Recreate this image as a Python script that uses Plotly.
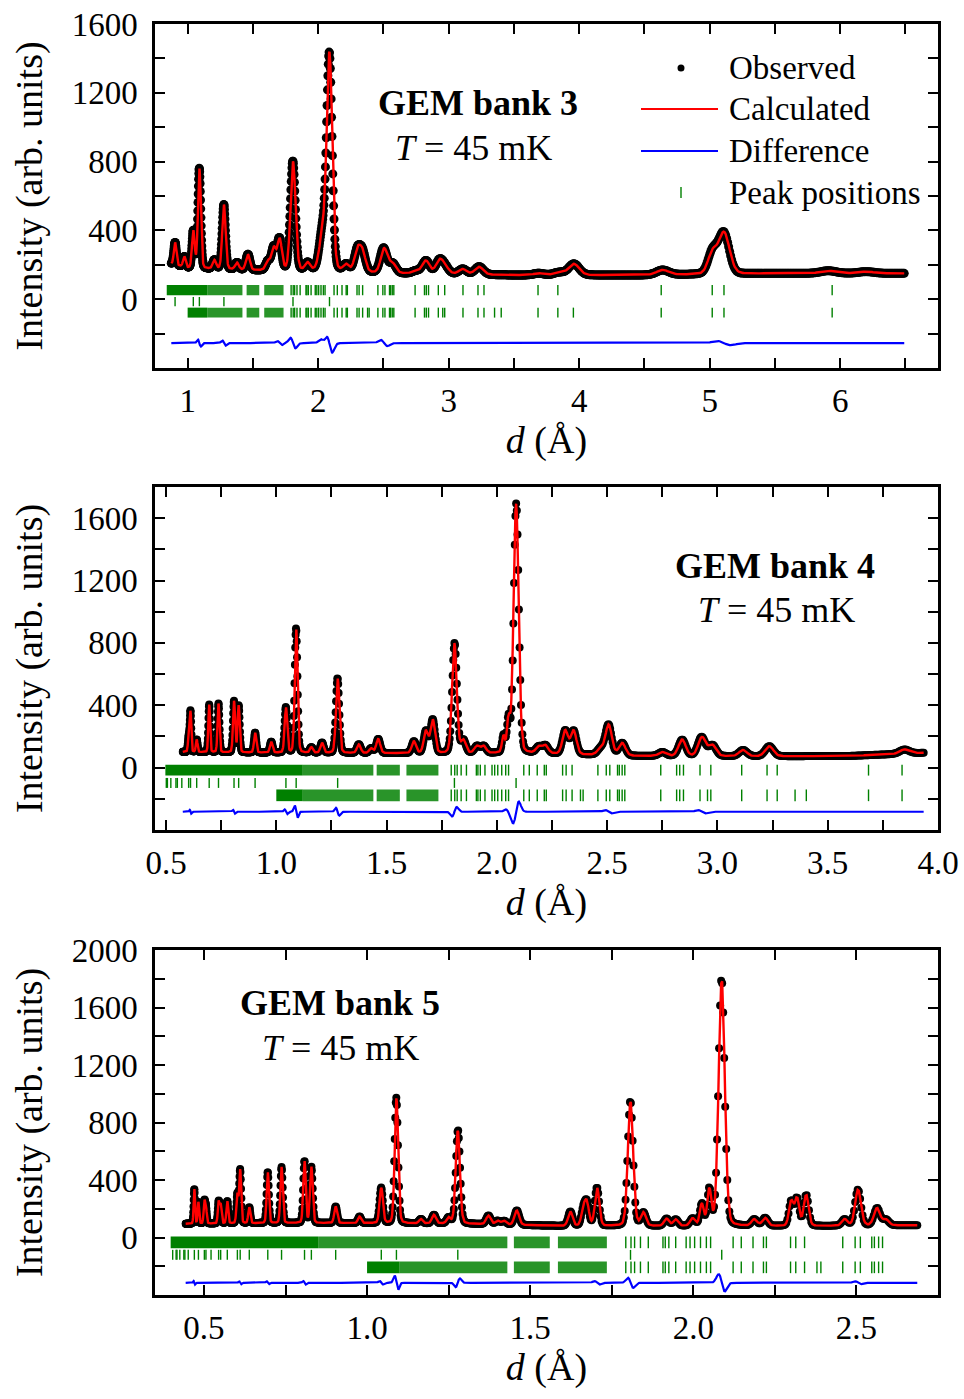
import numpy as np
import plotly.graph_objects as go

# ------------------------------------------------------------------
# Data (d in Angstrom, intensity in arb. units)
# ------------------------------------------------------------------
# --- GEM bank 3 ---
b3_d_range = [0.875, 6.50]
b3_bg_d = [0.875, 1.0, 1.5, 2.0, 2.6, 3.5, 4.5, 5.5, 6.5]
b3_bg_i = [205, 180, 168, 160, 150, 140, 140, 150, 150]
b3_pk_d = [0.9038, 0.975, 1.0436, 1.0900, 1.205, 1.2781, 1.378, 1.462, 1.615, 1.659, 1.705,
           1.8075, 1.92, 2.035, 2.0871, 2.215, 2.30, 2.34, 2.506, 2.57, 2.75, 2.826, 2.928,
           2.97, 3.108, 3.234, 3.69, 3.846, 3.96, 4.64, 5.02, 5.11, 5.91, 6.2]
b3_pk_h = [130, 60, 215, 580, 50, 375, 40, 90, 50, 130, 180,
           635, 45, 200, 1250, 40, 120, 110, 140, 55, 15, 75, 70,
           40, 30, 45, 10, 15, 65, 28, 115, 240, 15, 10]
b3_pk_w = [0.022, 0.024, 0.024, 0.026, 0.03, 0.03, 0.033, 0.035, 0.04, 0.04, 0.04,
           0.045, 0.045, 0.06, 0.05, 0.05, 0.055, 0.055, 0.06, 0.06, 0.065, 0.065, 0.065,
           0.07, 0.07, 0.075, 0.09, 0.09, 0.095, 0.11, 0.08, 0.1, 0.14, 0.14]
b3_df_d = [1.09, 1.2781, 1.705, 1.8075, 2.04, 2.0871, 2.506, 5.11]
b3_df_a = [20, 15, 12, 30, 20, 55, 18, 12]
b3_df_w = [0.026, 0.03, 0.04, 0.045, 0.05, 0.05, 0.06, 0.12]
b3_step = 0.0015

# --- GEM bank 4 ---
b4_d_range = [0.576, 3.936]
b4_bg_d = [0.576, 1.0, 1.6, 2.2, 2.6, 3.2, 3.6, 3.936]
b4_bg_i = [100, 95, 92, 90, 75, 72, 75, 95]
b4_pk_d = [0.6025, 0.6111, 0.6390, 0.6957, 0.7379, 0.8083, 0.8293, 0.9038, 0.977, 1.0436,
           1.0900, 1.159, 1.207, 1.2781, 1.374, 1.43, 1.462, 1.624, 1.678, 1.709, 1.8075,
           1.848, 1.91, 1.94, 2.03, 2.053, 2.0871, 2.19, 2.22, 2.31, 2.348, 2.47, 2.507,
           2.568, 2.75, 2.84, 2.93, 2.977, 3.116, 3.235, 3.848]
b4_pk_h = [90, 260, 80, 305, 312, 328, 300, 128, 70, 290,
           795, 35, 65, 478, 55, 30, 90, 75, 140, 215, 705,
           80, 45, 45, 100, 210, 1600, 40, 50, 150, 150, 40, 195,
           80, 25, 105, 120, 70, 40, 65, 27]
b4_pk_w = [0.008, 0.008, 0.009, 0.009, 0.01, 0.011, 0.011, 0.012, 0.014, 0.014,
           0.015, 0.016, 0.017, 0.018, 0.02, 0.02, 0.021, 0.023, 0.023, 0.024, 0.025,
           0.026, 0.027, 0.027, 0.016, 0.016, 0.027, 0.03, 0.03, 0.03, 0.03, 0.034, 0.034,
           0.035, 0.038, 0.038, 0.04, 0.04, 0.042, 0.044, 0.05]
b4_df_d = [0.6111, 0.8083, 1.0436, 1.09, 1.2781, 1.8075, 2.053, 2.0871, 2.507, 2.93]
b4_df_a = [12, 12, 15, 40, 25, -30, 15, -65, 10, 10]
b4_df_w = [0.008, 0.011, 0.014, 0.015, 0.018, 0.025, 0.028, 0.029, 0.034, 0.04]
b4_step = 0.0015

# --- GEM bank 5 ---
b5_d_range = [0.444, 2.688]
b5_bg_d = [0.444, 0.7, 1.0, 1.3, 1.6, 2.0, 2.4, 2.688]
b5_bg_i = [95, 100, 100, 95, 80, 78, 80, 85]
b5_pk_d = [0.4706, 0.4831, 0.5013, 0.5062, 0.5450, 0.5513, 0.5716, 0.6025, 0.6111, 0.6390,
           0.6957, 0.7379, 0.8083, 0.8293, 0.9038, 0.977, 1.0436, 1.0900, 1.165, 1.205,
           1.25, 1.2781, 1.372, 1.40, 1.42, 1.459, 1.623, 1.663, 1.674, 1.705, 1.8075,
           1.847, 1.918, 1.946, 1.998, 2.026, 2.049, 2.0871, 2.187, 2.22, 2.30, 2.318,
           2.346, 2.464, 2.505, 2.563, 2.59]
b5_pk_h = [240, 150, 150, 110, 150, 130, 155, 200, 370, 110,
           355, 390, 430, 390, 115, 45, 245, 870, 30, 60,
           40, 650, 60, 25, 25, 100, 100, 110, 150, 265, 870,
           90, 50, 45, 50, 150, 250, 1720, 45, 55, 170, 190,
           215, 45, 250, 120, 40]
b5_pk_w = [0.005, 0.005, 0.0055, 0.0055, 0.006, 0.006, 0.0065, 0.007, 0.007, 0.0075,
           0.008, 0.0085, 0.009, 0.0095, 0.0105, 0.011, 0.012, 0.0125, 0.013, 0.014,
           0.014, 0.015, 0.016, 0.016, 0.017, 0.017, 0.016, 0.015, 0.015, 0.016, 0.019,
           0.018, 0.018, 0.018, 0.018, 0.014, 0.014, 0.022, 0.02, 0.02, 0.016, 0.016,
           0.017, 0.02, 0.021, 0.022, 0.022]
b5_df_d = [0.4706, 0.6111, 0.6957, 0.8083, 1.0436, 1.09, 1.2781, 1.705, 1.8075, 2.0871, 2.505]
b5_df_a = [12, 10, 10, 12, 12, 50, -30, 12, 35, 60, 10]
b5_df_w = [0.005, 0.007, 0.008, 0.009, 0.012, 0.0125, 0.015, 0.018, 0.019, 0.022, 0.021]
b5_step = 0.0015

# --- Reflection (peak) positions ---
cu_d = [2.0871, 1.8075, 1.2781, 1.0900, 1.0436, 0.9038, 0.8293, 0.8083, 0.7379, 0.6957,
        0.6390, 0.6111, 0.6025, 0.5716, 0.5513, 0.5450, 0.5218, 0.5062, 0.5013, 0.4831,
        0.4706, 0.4519, 0.4416, 0.4384, 0.4260, 0.4174, 0.4147, 0.4042]
main_d = [1.793, 1.809, 1.820, 1.838, 1.862, 1.907, 1.914, 1.925, 1.946, 1.978, 1.990,
          2.004, 2.022, 2.040, 2.053, 2.122, 2.147, 2.183, 2.215, 2.224, 2.298, 2.314,
          2.341, 2.458, 2.496, 2.512, 2.547, 2.555, 2.568, 2.580, 2.743, 2.815, 2.829,
          2.846, 2.921, 2.970, 3.110, 3.225, 3.271, 3.685, 3.837, 4.629, 5.020, 5.110, 5.939]
mag_extra_d = [2.379, 2.391, 2.955, 3.352, 3.403, 3.956]
# densely packed reflections (unresolved at this scale): [start, end]
b3_main_dense = [[0.84, 1.15]]
b3_main_light = [[1.15, 1.42], [1.452, 1.549], [1.587, 1.735]]
b3_mag_dense = [[1.0, 1.15]]
b3_mag_light = [[1.15, 1.42], [1.452, 1.549], [1.587, 1.735]]
b4_main_dense = [[0.497, 1.12]]
b4_main_light = [[1.12, 1.44], [1.455, 1.56], [1.59, 1.735]]
b4_mag_dense = [[1.0, 1.12]]
b4_mag_light = [[1.12, 1.44], [1.455, 1.56], [1.59, 1.735]]
b5_main_dense = [[0.398, 0.85]]
b5_main_light = [[0.85, 1.43], [1.45, 1.56], [1.585, 1.735]]
b5_mag_dense = [[1.0, 1.1]]
b5_mag_light = [[1.1, 1.43], [1.45, 1.56], [1.585, 1.735]]
tick_dmin = {"b3": 0.84, "b4": 0.497, "b5": 0.398}

# ------------------------------------------------------------------
# Style / layout constants
# ------------------------------------------------------------------
FONT = "Liberation Serif"
GREEN = "rgb(0,128,0)"
GREEN_LIGHT = "rgba(0,128,0,0.84)"
W, H = 964, 1399
X0, X1 = 155 / W, 938 / W


def ydom(top, bot):
    return [1 - bot / H, 1 - top / H]


def profile(d, bg_d, bg_i, pk_d, pk_h, pk_w, eta=0.15):
    y = np.interp(d, bg_d, bg_i).astype(float)
    for c, h, w in zip(pk_d, pk_h, pk_w):
        t = 4.0 * (d - c) ** 2 / w ** 2
        y += h * (eta / (1 + t) + (1 - eta) * np.exp(-np.log(2) * t))
    return y


def misfit(d, df_d, df_a, df_w):
    y = np.zeros_like(d)
    for c, a, w in zip(df_d, df_a, df_w):
        u = (d - c) / (w / 2.355)
        y += a * (-u) * np.exp(0.5 - u * u / 2)
    return y


def grid(lo, hi, step):
    n = int(np.log(hi / lo) / np.log(1 + step)) + 1
    return lo * (1 + step) ** np.arange(n)


panels = [
    dict(key="b3", xr=[0.75, 6.75], yr=[-400, 1600], dom=ydom(24, 368),
         drange=b3_d_range, bg=(b3_bg_d, b3_bg_i), pk=(b3_pk_d, b3_pk_h, b3_pk_w),
         df=(b3_df_d, b3_df_a, b3_df_w), step=b3_step, diff0=-255,
         rows=[(23, 82), (-41, 13), (-107, -49)],
         main_dense=b3_main_dense, main_light=b3_main_light,
         mag_dense=b3_mag_dense, mag_light=b3_mag_light,
         xt=np.arange(1.0, 6.51, 0.5), xlab=lambda v: f"{v:.0f}" if abs(v - round(v)) < 1e-6 else "",
         yt=np.arange(-200, 1601, 200), msize=9),
    dict(key="b4", xr=[0.45, 4.0], yr=[-400, 1800], dom=ydom(487, 830),
         drange=b4_d_range, bg=(b4_bg_d, b4_bg_i), pk=(b4_pk_d, b4_pk_h, b4_pk_w),
         df=(b4_df_d, b4_df_a, b4_df_w), step=b4_step, diff0=-283,
         rows=[(-51, 19), (-130, -66), (-215, -140)],
         main_dense=b4_main_dense, main_light=b4_main_light,
         mag_dense=b4_mag_dense, mag_light=b4_mag_light,
         xt=np.arange(0.5, 4.01, 0.25), xlab=lambda v: f"{v:.1f}" if abs(v * 2 - round(v * 2)) < 1e-6 else "",
         yt=np.arange(-200, 1801, 200), msize=8),
    dict(key="b5", xr=[0.35, 2.75], yr=[-400, 2000], dom=ydom(950, 1295),
         drange=b5_d_range, bg=(b5_bg_d, b5_bg_i), pk=(b5_pk_d, b5_pk_h, b5_pk_w),
         df=(b5_df_d, b5_df_a, b5_df_w), step=b5_step, diff0=-315,
         rows=[(-74, 7), (-155, -86), (-248, -167)],
         main_dense=b5_main_dense, main_light=b5_main_light,
         mag_dense=b5_mag_dense, mag_light=b5_mag_light,
         xt=np.arange(0.5, 2.751, 0.25), xlab=lambda v: f"{v:.1f}" if abs(v * 2 - round(v * 2)) < 1e-6 else "",
         yt=np.arange(-200, 2001, 200), msize=8),
]

fig = go.Figure()


def ticks_xy(ds, y0, y1):
    xs, ys = [], []
    for v in ds:
        xs += [v, v, None]
        ys += [y0, y1, None]
    return xs, ys


def band_xy(bands, y0, y1):
    xs, ys = [], []
    for a, b in bands:
        xs += [a, b, b, a, a, None]
        ys += [y0, y0, y1, y1, y0, None]
    return xs, ys


for i, p in enumerate(panels):
    xa = "x" if i == 0 else f"x{i + 1}"
    ya = "y" if i == 0 else f"y{i + 1}"
    d = grid(p["drange"][0], p["drange"][1], p["step"])
    calc = profile(d, *p["bg"], *p["pk"])
    dif = misfit(d, *p["df"])
    obs = calc + dif
    dmin, dmax = tick_dmin[p["key"]], p["drange"][1]

    fig.add_trace(go.Scatter(x=d, y=obs, mode="markers", name="Observed",
                             marker=dict(color="black", size=p["msize"]),
                             xaxis=xa, yaxis=ya, showlegend=False, cliponaxis=True))
    fig.add_trace(go.Scatter(x=d, y=calc, mode="lines", name="Calculated",
                             line=dict(color="red", width=2.4),
                             xaxis=xa, yaxis=ya, showlegend=False))
    fig.add_trace(go.Scatter(x=d, y=dif + p["diff0"], mode="lines", name="Difference",
                             line=dict(color="blue", width=2.2),
                             xaxis=xa, yaxis=ya, showlegend=False))

    (r1a, r1b), (r2a, r2b), (r3a, r3b) = p["rows"]
    main_sel = [v for v in main_d if dmin <= v <= dmax]
    cu_sel = [v for v in cu_d if dmin <= v <= dmax]
    mag_sel = [v for v in sorted(main_d + mag_extra_d) if max(1.0, dmin) <= v <= dmax]
    for ds, (a, b) in [(main_sel, (r1a, r1b)), (cu_sel, (r2a, r2b)), (mag_sel, (r3a, r3b))]:
        tx, ty = ticks_xy(ds, a, b)
        fig.add_trace(go.Scatter(x=tx, y=ty, mode="lines", name="Peak positions",
                                 line=dict(color=GREEN, width=1.4),
                                 xaxis=xa, yaxis=ya, showlegend=False))
    for bands, col, (a, b) in [(p["main_dense"], GREEN, (r1a, r1b)),
                               (p["main_light"], GREEN_LIGHT, (r1a, r1b)),
                               (p["mag_dense"], GREEN, (r3a, r3b)),
                               (p["mag_light"], GREEN_LIGHT, (r3a, r3b))]:
        bx, by = band_xy(bands, a, b)
        fig.add_trace(go.Scatter(x=bx, y=by, mode="lines", fill="toself",
                                 fillcolor=col, line=dict(width=0, color=col),
                                 name="Peak positions", xaxis=xa, yaxis=ya,
                                 showlegend=False, hoverinfo="skip"))

    axis_common = dict(showline=True, linecolor="black", linewidth=2.5, mirror="allticks",
                       ticks="inside", ticklen=10, tickwidth=2.2, tickcolor="black",
                       showgrid=False, zeroline=False, automargin=False,
                       tickfont=dict(family=FONT, size=33, color="black"))
    xv = list(p["xt"])
    fig.layout[("xaxis" if i == 0 else f"xaxis{i + 1}")] = dict(
        domain=[X0, X1], range=p["xr"], anchor=ya, tickmode="array",
        tickvals=xv, ticktext=[p["xlab"](v) for v in xv], ticklabelstandoff=2,
        title=dict(text="<i>d</i> (Å)", font=dict(family=FONT, size=38, color="black"), standoff=4),
        **axis_common)
    yv = [int(v) for v in p["yt"]]
    fig.layout[("yaxis" if i == 0 else f"yaxis{i + 1}")] = dict(
        domain=p["dom"], range=p["yr"], anchor=xa, tickmode="array",
        tickvals=yv, ticktext=[str(v) if v % 400 == 0 and v >= 0 else "" for v in yv],
        ticklabelstandoff=8,
        title=dict(text="Intensity (arb. units)", font=dict(family=FONT, size=38, color="black"), standoff=18),
        **axis_common)


def px(xp):
    return xp / W


def py(yp):
    return 1 - yp / H


ann = []
shapes = []
# panel labels
for txt, x, y in [("<b>GEM bank 3</b>", 478, 103), ("<i>T</i> = 45 mK", 473, 148),
                  ("<b>GEM bank 4</b>", 775, 566), ("<i>T</i> = 45 mK", 776, 610),
                  ("<b>GEM bank 5</b>", 340, 1003), ("<i>T</i> = 45 mK", 340, 1048)]:
    ann.append(dict(text=txt, x=px(x), y=py(y), xref="paper", yref="paper",
                    xanchor="center", yanchor="middle", showarrow=False,
                    font=dict(family=FONT, size=36, color="black")))
# legend (panel 1)
for txt, y in [("Observed", 68), ("Calculated", 109), ("Difference", 151), ("Peak positions", 193)]:
    ann.append(dict(text=txt, x=px(727), y=py(y), xref="paper", yref="paper",
                    xanchor="left", yanchor="middle", showarrow=False,
                    font=dict(family=FONT, size=33, color="black")))
shapes.append(dict(type="circle", xref="paper", yref="paper", x0=px(677.5), x1=px(684.5),
                   y0=py(71.5), y1=py(64.5), fillcolor="black", line=dict(width=0)))
shapes.append(dict(type="line", xref="paper", yref="paper", x0=px(641), x1=px(718),
                   y0=py(109), y1=py(109), line=dict(color="red", width=2)))
shapes.append(dict(type="line", xref="paper", yref="paper", x0=px(641), x1=px(718),
                   y0=py(151), y1=py(151), line=dict(color="blue", width=2)))
shapes.append(dict(type="line", xref="paper", yref="paper", x0=px(681), x1=px(681),
                   y0=py(187), y1=py(198), line=dict(color=GREEN, width=1.4)))

fig.update_layout(width=W, height=H, margin=dict(l=0, r=0, t=0, b=0, autoexpand=False),
                  paper_bgcolor="white", plot_bgcolor="white", showlegend=False,
                  annotations=ann, shapes=shapes,
                  font=dict(family=FONT, color="black"))

fig.write_html("out.html")
